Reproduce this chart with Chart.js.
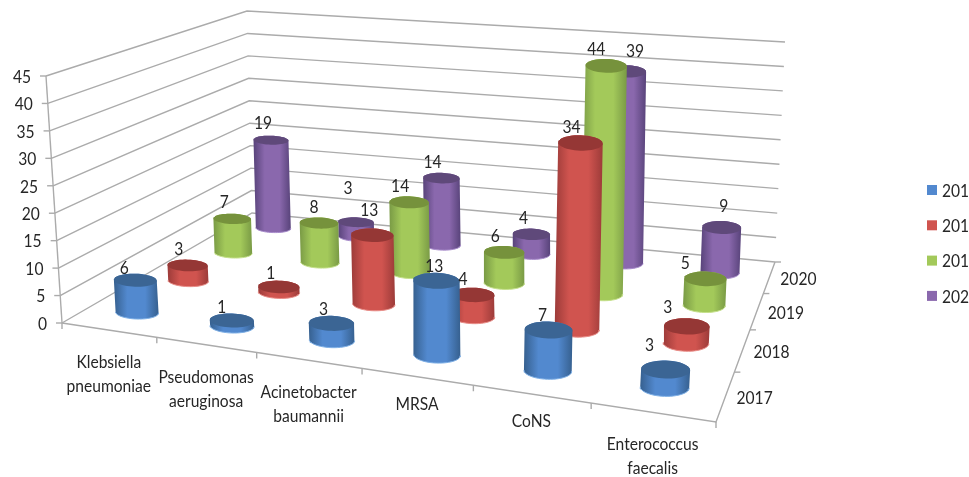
<!DOCTYPE html>
<html>
<head>
<meta charset="utf-8">
<script src="https://cdn.jsdelivr.net/npm/chart.js@4"></script>
<style>
  html, body { margin: 0; padding: 0; background: #fff; overflow: hidden; }
  canvas { display: block; filter: blur(0.4px); }
</style>
</head>
<body>
<canvas id="chart" width="969" height="477"></canvas>
<script>
const categories = [
  ['Klebsiella', 'pneumoniae'],
  ['Pseudomonas', 'aeruginosa'],
  ['Acinetobacter', 'baumannii'],
  ['MRSA'],
  ['CoNS'],
  ['Enterococcus', 'faecalis']
];
const years = ['2017', '2018', '2019', '2020'];
const values2017 = [6, 1, 3, 13, 7, 3];
const values2018 = [3, 1, 13, 4, 34, 3];
const values2019 = [7, 8, 14, 6, 44, 5];
const values2020 = [19, 3, 14, 4, 39, 9];
const seriesValues = [values2017, values2018, values2019, values2020];
const valueTicks = [0, 5, 10, 15, 20, 25, 30, 35, 40, 45];

// colours per series: edge, centre, cap, rim
const shades = [
  ['#36608f', '#5289cf', '#3b6594', '#7fb0e6'],
  ['#9c3b39', '#d0544f', '#953735', '#e88d88'],
  ['#799a45', '#a3c95a', '#76923c', '#c5e08c'],
  ['#58437a', '#8a68ad', '#5f497a', '#a88ccb']
];
const gridColor = '#ababab';
const textColor = '#262626';
const font = '15.6px Lato';

// the box of the 3d chart on screen
const floorQuad = [[62, 323], [716, 422], [775, 262], [252, 213]];
const topQuad = [[46, 76], [737, 143], [785, 42], [247, 11]];
const maxValue = 45;
// cylinder half sizes at the four corners of the rows: [front, back] for first and last category
const halfWidths = [[21.5, 17.5], [24.5, 19.5]];
const halfHeights = [[6.5, 4.5], [9, 6.5]];
const capTilt = 0.03;
// data labels sit next to the cap, per series and category
const labelShift = [
  [[-11, -12], [-10, -13], [-8, -14], [-2, -15], [-6, -15], [-16, -24]],
  [[-9, -16], [-8, -14], [-3, -25], [-10, -16], [-9, -16], [-19, -19]],
  [[-8, -17], [-5, -16], [-9, -16], [-9, -16], [-10, -17], [-20, -16]],
  [[-8, -17], [-8, -34], [-9, -16], [-8, -16], [8, -20], [2, -21]]
];

function quadMap(q) {
  const [[x0, y0], [x1, y1], [x2, y2], [x3, y3]] = q;
  const dx1 = x1 - x2, dx2 = x3 - x2, sx = x0 - x1 + x2 - x3;
  const dy1 = y1 - y2, dy2 = y3 - y2, sy = y0 - y1 + y2 - y3;
  const den = dx1 * dy2 - dx2 * dy1;
  const g = (sx * dy2 - dx2 * sy) / den;
  const h = (dx1 * sy - sx * dy1) / den;
  return (s, t) => {
    const w = g * s + h * t + 1;
    return [
      ((x1 - x0 + g * x1) * s + (x3 - x0 + h * x3) * t + x0) / w,
      ((y1 - y0 + g * y1) * s + (y3 - y0 + h * y3) * t + y0) / w
    ];
  };
}
const floorMap = quadMap(floorQuad);
const topMap = quadMap(topQuad);

// u: category position, v: series position, val: value on the vertical axis
function project(u, v, val) {
  const n = u / categories.length;
  const s = 1.098 * n / (1 + 0.098 * n); // category ticks are spaced more evenly than the corners give
  const t = v / years.length;
  const a = floorMap(s, t), b = topMap(s, t), k = val / maxValue;
  return { x: a[0] + (b[0] - a[0]) * k, y: a[1] + (b[1] - a[1]) * k };
}

function corner(table, c, s) {
  const i = c / (categories.length - 1), j = s / (years.length - 1);
  const front = table[0][0] + (table[1][0] - table[0][0]) * i;
  const back = table[0][1] + (table[1][1] - table[0][1]) * i;
  return front + (back - front) * j;
}

function ellipse(c, s, val, from, to, n) {
  const mid = project(c + 0.5, s + 0.5, val);
  const rx = corner(halfWidths, c, s), ry = corner(halfHeights, c, s);
  const cos = Math.cos(capTilt), sin = Math.sin(capTilt);
  const pts = [];
  for (let i = 0; i <= n; i++) {
    const a = from + (to - from) * i / n;
    const ex = rx * Math.cos(a), ey = ry * Math.sin(a);
    pts.push({ x: mid.x + ex * cos - ey * sin, y: mid.y + ex * sin + ey * cos });
  }
  return pts;
}

function hull(points) {
  const p = points.slice().sort((a, b) => a.x - b.x || a.y - b.y);
  const cross = (o, a, b) => (a.x - o.x) * (b.y - o.y) - (a.y - o.y) * (b.x - o.x);
  const half = list => {
    const out = [];
    for (const q of list) {
      while (out.length > 1 && cross(out[out.length - 2], out[out.length - 1], q) <= 0) out.pop();
      out.push(q);
    }
    out.pop();
    return out;
  };
  const h = half(p).concat(half(p.slice().reverse()));
  h.push(h[0]);
  return h;
}

function shapeDataset(points, fillColor, lineColor, lineWidth) {
  return {
    data: points,
    showLine: true,
    pointRadius: 0,
    tension: 0,
    fill: fillColor ? 'shape' : false,
    backgroundColor: fillColor || 'transparent',
    borderColor: lineColor || 'transparent',
    borderWidth: lineWidth || 0
  };
}

const datasets = [];

// grid lines and axes
valueTicks.forEach(val => {
  datasets.push(shapeDataset([
    project(0, 0, val), project(0, years.length, val), project(categories.length, years.length, val)
  ], null, gridColor, 1.4));
});
datasets.push(shapeDataset([project(0, 0, 0), project(0, 0, maxValue)], null, gridColor, 1.4));
datasets.push(shapeDataset([
  project(0, 0, 0), project(categories.length, 0, 0), project(categories.length, years.length, 0)
], null, gridColor, 1.4));
valueTicks.forEach(val => {
  const p = project(0, 0, val);
  datasets.push(shapeDataset([p, { x: p.x - 6, y: p.y }], null, gridColor, 1.4));
});
for (let u = 0; u <= categories.length; u++) {
  const p = project(u, 0, 0);
  datasets.push(shapeDataset([p, { x: p.x, y: p.y + 6 }], null, gridColor, 1.4));
}
for (let v = 1; v <= years.length; v++) {
  const p = project(categories.length, v, 0);
  datasets.push(shapeDataset([p, { x: p.x + 6, y: p.y }], null, gridColor, 1.4));
}

// cylinders, back row first so that the front ones cover them
for (let s = years.length - 1; s >= 0; s--) {
  seriesValues[s].forEach((val, c) => {
    const bottom = ellipse(c, s, 0, 0, Math.PI * 2, 48);
    const top = ellipse(c, s, val, 0, Math.PI * 2, 48);
    const body = hull(bottom.concat(top));
    const minX = Math.min(...body.map(p => p.x));
    const maxX = Math.max(...body.map(p => p.x));
    const gradient = ctx => {
      const xs = ctx.chart.scales.x;
      const x0 = xs.getPixelForValue(minX), x1 = xs.getPixelForValue(maxX);
      if (!isFinite(x0) || !isFinite(x1)) return shades[s][1];
      const g = ctx.chart.ctx.createLinearGradient(x0, 0, x1, 0);
      g.addColorStop(0, shades[s][0]);
      g.addColorStop(0.3, shades[s][1]);
      g.addColorStop(0.7, shades[s][1]);
      g.addColorStop(1, shades[s][0]);
      return g;
    };
    datasets.push(shapeDataset(body, gradient));
    datasets.push(shapeDataset(ellipse(c, s, 0, 0, Math.PI, 24), null, shades[s][3], 1));
    datasets.push(shapeDataset(top, shades[s][2]));
  });
}
// later entries go on top
datasets.forEach((d, i) => { d.order = -i; });

const textPlugin = {
  id: 'chartTexts',
  afterDatasetsDraw(chart) {
    const { ctx, scales: { x, y } } = chart;
    const px = p => ({ x: x.getPixelForValue(p.x), y: y.getPixelForValue(p.y) });
    const label = (text, lx, ly) => {
      // the text of the picture is narrow and tall
      ctx.save();
      ctx.translate(lx, ly);
      ctx.scale(1, 1.15);
      ctx.fillText(text, 0, 0);
      ctx.restore();
    };
    ctx.save();
    ctx.font = font;
    ctx.fillStyle = textColor;
    ctx.textBaseline = 'middle';

    ctx.textAlign = 'right';
    valueTicks.forEach(val => {
      const p = px(project(0, 0, val));
      label(String(val), p.x - 15, p.y + 1);
    });

    ctx.textAlign = 'center';
    categories.forEach((lines, c) => {
      const p = px(project(c + 0.5, 0, 0));
      if (lines.length === 1) label(lines[0], p.x, p.y + 27);
      else lines.forEach((line, i) => label(line, p.x, p.y + 32 + i * 24));
    });

    years.forEach((year, s) => {
      const p = px(project(categories.length, s + 0.5, 0));
      label(year, p.x + 29, p.y + 2);
    });

    seriesValues.forEach((vals, s) => {
      vals.forEach((val, c) => {
        const p = px(project(c + 0.5, s + 0.5, val));
        label(String(val), p.x + labelShift[s][c][0], p.y + labelShift[s][c][1]);
      });
    });

    ctx.textAlign = 'left';
    years.forEach((year, s) => {
      const ly = 190 + s * 35.3;
      ctx.fillStyle = shades[s][1];
      ctx.fillRect(927, ly - 5, 10, 10);
      ctx.fillStyle = textColor;
      label(year, 942, ly + 1);
    });
    ctx.restore();
  }
};

new Chart(document.getElementById('chart').getContext('2d'), {
  type: 'scatter',
  data: { datasets },
  plugins: [textPlugin],
  options: {
    responsive: false,
    animation: false,
    layout: { padding: 0 },
    plugins: { legend: { display: false }, tooltip: { enabled: false } },
    scales: {
      x: { type: 'linear', display: false, min: 0, max: 969 },
      y: { type: 'linear', display: false, min: 0, max: 477, reverse: true }
    }
  }
});
</script>
</body>
</html>
